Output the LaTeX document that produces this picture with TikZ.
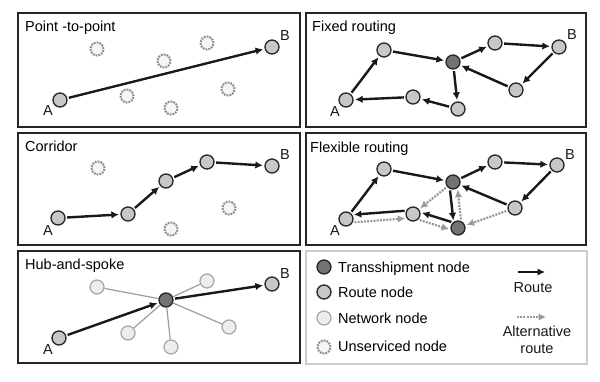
\documentclass[tikz,border=0pt]{standalone}
\usepackage{fontspec}
\setmainfont{Liberation Sans}
\usetikzlibrary{arrows.meta}
\begin{document}
\begin{tikzpicture}[x=1pt,y=-1pt, font=\fontsize{14.5}{16}\selectfont,
 panel/.style={draw=black!85, line width=2},
 legendbox/.style={draw=black!20, line width=2},
 rnode/.style={circle, draw=black!85, line width=1.3, fill=black!22, minimum size=14, inner sep=0},
 tnode/.style={rnode, fill=black!55},
 nnode/.style={circle, draw=black!35, line width=1.2, fill=black!7, minimum size=14, inner sep=0},
 unode/.style={circle, draw=black!45, line width=2, dash pattern=on 1.8 off 1.1, fill=black!4, minimum size=13, inner sep=0},
 rt/.style={line width=2.4, draw=black!90, -{Latex[length=7.5,width=7.5]}, shorten >=1.5, shorten <=1.5},
 alt/.style={line width=2.2, draw=black!40, dash pattern=on 2 off 1.2, -{Latex[length=7.5,width=7.5]}, shorten >=1.5, shorten <=1.5},
 spoke/.style={line width=1.2, draw=black!38},
 title/.style={anchor=base west, inner sep=0},
 lbl/.style={inner sep=0, text=black!90}
]
\useasboundingbox (0,0) rectangle (600,381);
\fill[white] (0,0) rectangle (600,381);

% ---------- Panels ----------
\draw[panel] (18,13) rectangle (300,127);
\draw[panel] (306,13) rectangle (586,127);
\draw[panel] (18,133) rectangle (300,245);
\draw[panel] (306,133) rectangle (586,245);
\draw[panel] (18,251) rectangle (300,363);
\draw[legendbox] (306,251) rectangle (587,364);

% ---------- Point-to-point ----------
\node[title] (t1) at (25,31) {Point -to-point};
\node[unode] (u1a) at (97,49) {};
\node[unode] (u1b) at (164,61) {};
\node[unode] (u1c) at (207,43) {};
\node[unode] (u1d) at (127,96) {};
\node[unode] (u1e) at (228,89) {};
\node[unode] (u1f) at (171,108) {};
\node[rnode] (pA) at (60,100) {};
\node[rnode] (pB) at (272,47) {};
\node[lbl] (pAl) at (48,111) {A};
\node[lbl] (pBl) at (285,36) {B};
\draw[rt] (pA) -- (pB);

% ---------- Fixed routing ----------
\node[title] (t2) at (312,31) {Fixed routing};
\node[rnode] (fA) at (346,100) {};
\node[rnode] (f1) at (384,50) {};
\node[tnode] (fT) at (453,62) {};
\node[rnode] (f2) at (495,43) {};
\node[rnode] (fB) at (559,47) {};
\node[rnode] (f3) at (516,90) {};
\node[rnode] (f4) at (458,109) {};
\node[rnode] (f5) at (413,97) {};
\node[lbl] (fAl) at (335,112) {A};
\node[lbl] (fBl) at (572,35) {B};
\draw[rt] (fA) -- (f1);
\draw[rt] (f1) -- (fT);
\draw[rt] (fT) -- (f2);
\draw[rt] (f2) -- (fB);
\draw[rt] (fB) -- (f3);
\draw[rt] (f3) -- (fT);
\draw[rt] (fT) -- (f4);
\draw[rt] (f4) -- (f5);
\draw[rt] (f5) -- (fA);

% ---------- Corridor ----------
\node[title] (t3) at (25,151) {Corridor};
\node[unode] (u3a) at (98,168) {};
\node[unode] (u3b) at (229,208) {};
\node[unode] (u3c) at (171,229) {};
\node[rnode] (cA) at (58,218) {};
\node[rnode] (c1) at (128,214) {};
\node[rnode] (c2) at (166,181) {};
\node[rnode] (c3) at (207,162) {};
\node[rnode] (cB) at (272,166) {};
\node[lbl] (cAl) at (48,231) {A};
\node[lbl] (cBl) at (285,155) {B};
\draw[rt] (cA) -- (c1);
\draw[rt] (c1) -- (c2);
\draw[rt] (c2) -- (c3);
\draw[rt] (c3) -- (cB);

% ---------- Flexible routing ----------
\node[title] (t4) at (310,152) {Flexible routing};
\node[rnode] (xA) at (346,219) {};
\node[rnode] (x1) at (384,169) {};
\node[tnode] (xT) at (453,182) {};
\node[rnode] (x2) at (495,162) {};
\node[rnode] (xB) at (557,165) {};
\node[rnode] (x3) at (515,208) {};
\node[tnode] (xT2) at (458,228) {};
\node[rnode] (x5) at (413,214) {};
\node[lbl] (xAl) at (335,231) {A};
\node[lbl] (xBl) at (570,155) {B};
\draw[rt] (xA) -- (x1);
\draw[rt] (x1) -- (xT);
\draw[rt] (xT) -- (x2);
\draw[rt] (x2) -- (xB);
\draw[rt] (xB) -- (x3);
\draw[rt] (x3) -- (xT);
\draw[rt] (xT.-114) -- (xT2.126);
\draw[rt] (xT2.133) -- (x5.13);
\draw[rt] (x5.154) -- (xA.34);
\draw[alt] (xT) -- (x5);
\draw[alt] (xT2.66) -- (xT.-54);
\draw[alt] (xA.-26) -- (x5.214);
\draw[alt] (x5.-47) -- (xT2.193);
\draw[alt] (x3) -- (xT2);

% ---------- Hub-and-spoke ----------
\node[title] (t5) at (25,269) {Hub-and-spoke};
\node[nnode] (h1) at (97,287) {};
\node[nnode] (h2) at (207,281) {};
\node[nnode] (h3) at (128,333) {};
\node[nnode] (h4) at (171,347) {};
\node[nnode] (h5) at (229,327) {};
\node[tnode] (hH) at (166,300) {};
\draw[spoke] (hH) -- (h1);
\draw[spoke] (hH) -- (h2);
\draw[spoke] (hH) -- (h3);
\draw[spoke] (hH) -- (h4);
\draw[spoke] (hH) -- (h5);
\node[rnode] (hA) at (59,338) {};
\node[rnode] (hB) at (272,284) {};
\node[lbl] (hAl) at (48,350) {A};
\node[lbl] (hBl) at (285,274) {B};
\draw[rt] (hA) -- (hH);
\draw[rt] (hH) -- (hB);

% ---------- Legend ----------
\node[tnode] (lT) at (324,267) {};
\node[rnode] (lR) at (324,292) {};
\node[nnode] (lN) at (324,318) {};
\node[unode] (lU) at (324,347) {};
\node[title] (lTt) at (338,272) {Transshipment node};
\node[title] (lRt) at (338,297) {Route node};
\node[title] (lNt) at (338,323) {Network node};
\node[title] (lUt) at (338,351) {Unserviced node};
\coordinate (r1) at (518,272);
\coordinate (r2) at (545,272);
\draw[rt, shorten >=0, shorten <=0, line width=2] (r1) -- (r2);
\node[lbl, anchor=base] (lRoute) at (533,292) {Route};
\coordinate (a1) at (517,317);
\coordinate (a2) at (546,317);
\draw[alt, shorten >=0, shorten <=0, line width=1.8] (a1) -- (a2);
\node[lbl, anchor=base] (lAlt1) at (537,336) {Alternative};
\node[lbl, anchor=base] (lAlt2) at (537,353) {route};
\end{tikzpicture}
\end{document}
